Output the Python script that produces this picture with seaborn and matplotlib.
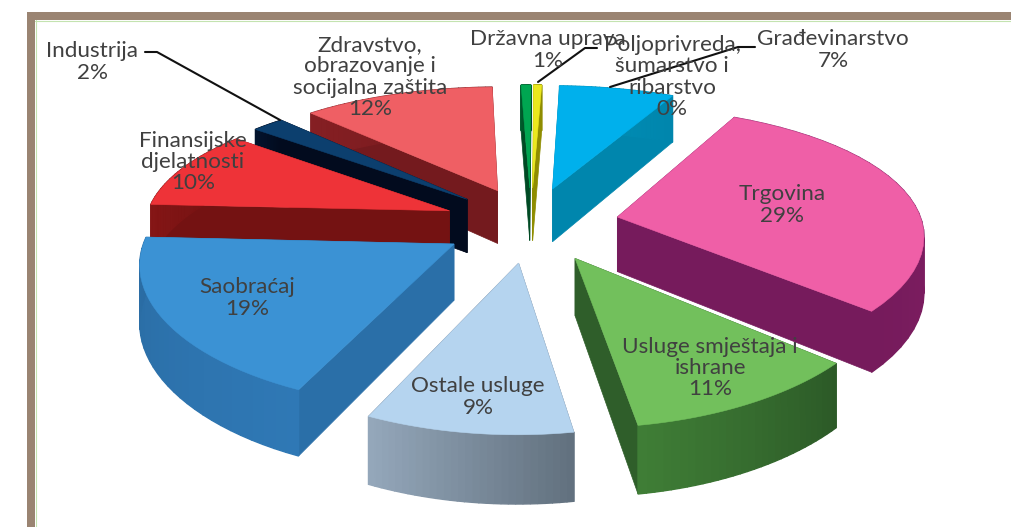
import numpy as np
import matplotlib
matplotlib.use('Agg')
import matplotlib.pyplot as plt
import seaborn as sns
from matplotlib.patches import Polygon

# clockwise from the top of the pie
categories = ['Građevinarstvo', 'Trgovina', 'Usluge smještaja i\nishrane', 'Ostale usluge', 'Saobraćaj',
              'Finansijske\ndjelatnosti', 'Industrija', 'Zdravstvo,\nobrazovanje i\nsocijalna zaštita',
              'Državna uprava', 'Poljoprivreda,\nšumarstvo i\nribarstvo']
shares = [7, 29, 11, 9.4, 19, 10, 2, 11.7, 0.6, 0.49]
top_colors = ['#00b0ec', '#ef5fa7', '#72c05c', '#b5d4ef', '#3b92d4', '#ee3338', '#0c3f6e', '#ef5f64', '#00a651', '#ebe81e']
wall_start = ['#0090b8', '#8a2168', '#2c5a27', '#62717f', '#2f78b5', '#861616', '#03142e', '#851f23', '#005c2c', '#a8a600']
wall_end = ['#0086ad', '#761b5c', '#3f7d36', '#94a7ba', '#2a6ca3', '#741212', '#020b1e', '#741a1e', '#004a24', '#8f8d00']
face_colors = ['#0086ad', '#761b5c', '#2f5e2a', '#66768a', '#2a6fa8', '#741212', '#020b1e', '#741a1e', '#004a24', '#8f8d00']

label_pos = [(833, 50), (782, 205), (710, 368), (478, 397), (247, 298), (193, 162), (92, 62), (370, 77), (548, 50), (672, 77)]
leaders = [[(145, 52), (157, 52), (280, 120)],
           [(597, 48), (585, 48), (538, 82)],
           [(755, 47), (738, 47), (610, 87)]]

CX, CY = 531, 224
RX, RY = 305, 130
PERSP_X, PERSP_Y = 0.12, 0.16
DEPTH = 55
EXPLODE = 0.29
ROTATION = np.radians(2)


def project(x, y, z=0.0):
    sx = 1.0 / (1.0 + PERSP_X * y)
    s = 1.0 / (1.0 + PERSP_Y * y)
    return CX + RX * x * sx, CY - RY * y * s + DEPTH * z * s


sns.set_theme(style='white')
plt.rcParams['font.family'] = ['Lato', 'DejaVu Sans']
fig, ax = plt.subplots(figsize=(10.11, 5.27), dpi=100)
fig.subplots_adjust(0, 0, 1, 1)
ax.set_xlim(0, 1011)
ax.set_ylim(527, 0)
ax.set_axis_off()

# picture frame
ax.fill_between([27, 1011], 12, 20, color='#9a8472', lw=0)
ax.fill_between([27, 35], 12, 527, color='#9a8472', lw=0)
ax.plot([35, 1011], [20.5, 20.5], color='#c4e3b0', lw=0.8)
ax.plot([35.5, 35.5], [20, 527], color='#c4e3b0', lw=0.8)

fractions = np.array(shares) / np.sum(shares)
edges = np.concatenate([[0], np.cumsum(fractions)]) * 2 * np.pi + ROTATION
mids = (edges[:-1] + edges[1:]) / 2

# back slices first
order = np.argsort(-np.cos(mids))
for i in order:
    ox, oy = EXPLODE * np.sin(mids[i]), EXPLODE * np.cos(mids[i])
    th = np.linspace(edges[i], edges[i + 1], 30)
    xs, ys = ox + np.sin(th), oy + np.cos(th)

    # radial faces
    for ex, ey in [(xs[0], ys[0]), (xs[-1], ys[-1])]:
        quad = [project(ox, oy), project(ex, ey), project(ex, ey, 1), project(ox, oy, 1)]
        ax.add_patch(Polygon(quad, closed=True, fc=face_colors[i], ec=face_colors[i], lw=0.5))

    # rim wall, strip by strip for the shading
    shade = sns.blend_palette([wall_start[i], wall_end[i]], n_colors=len(th) - 1)
    for k in range(len(th) - 1):
        quad = [project(xs[k], ys[k]), project(xs[k + 1], ys[k + 1]),
                project(xs[k + 1], ys[k + 1], 1), project(xs[k], ys[k], 1)]
        ax.add_patch(Polygon(quad, closed=True, fc=shade[k], ec=shade[k], lw=1.0))

    top = [project(ox, oy)] + [project(x, y) for x, y in zip(xs, ys)]
    ax.add_patch(Polygon(top, closed=True, fc=top_colors[i], ec=top_colors[i], lw=0.4))

for pts in leaders:
    ax.plot(*zip(*pts), color='#111111', lw=1.5, solid_joinstyle='round')

for name, share, (lx, ly) in zip(categories, shares, label_pos):
    ax.text(lx, ly, f'{name}\n{round(share)}%', ha='center', va='center',
            fontsize=16.2, color='#404040', linespacing=1.08)

fig.savefig('out.png', dpi=100)
